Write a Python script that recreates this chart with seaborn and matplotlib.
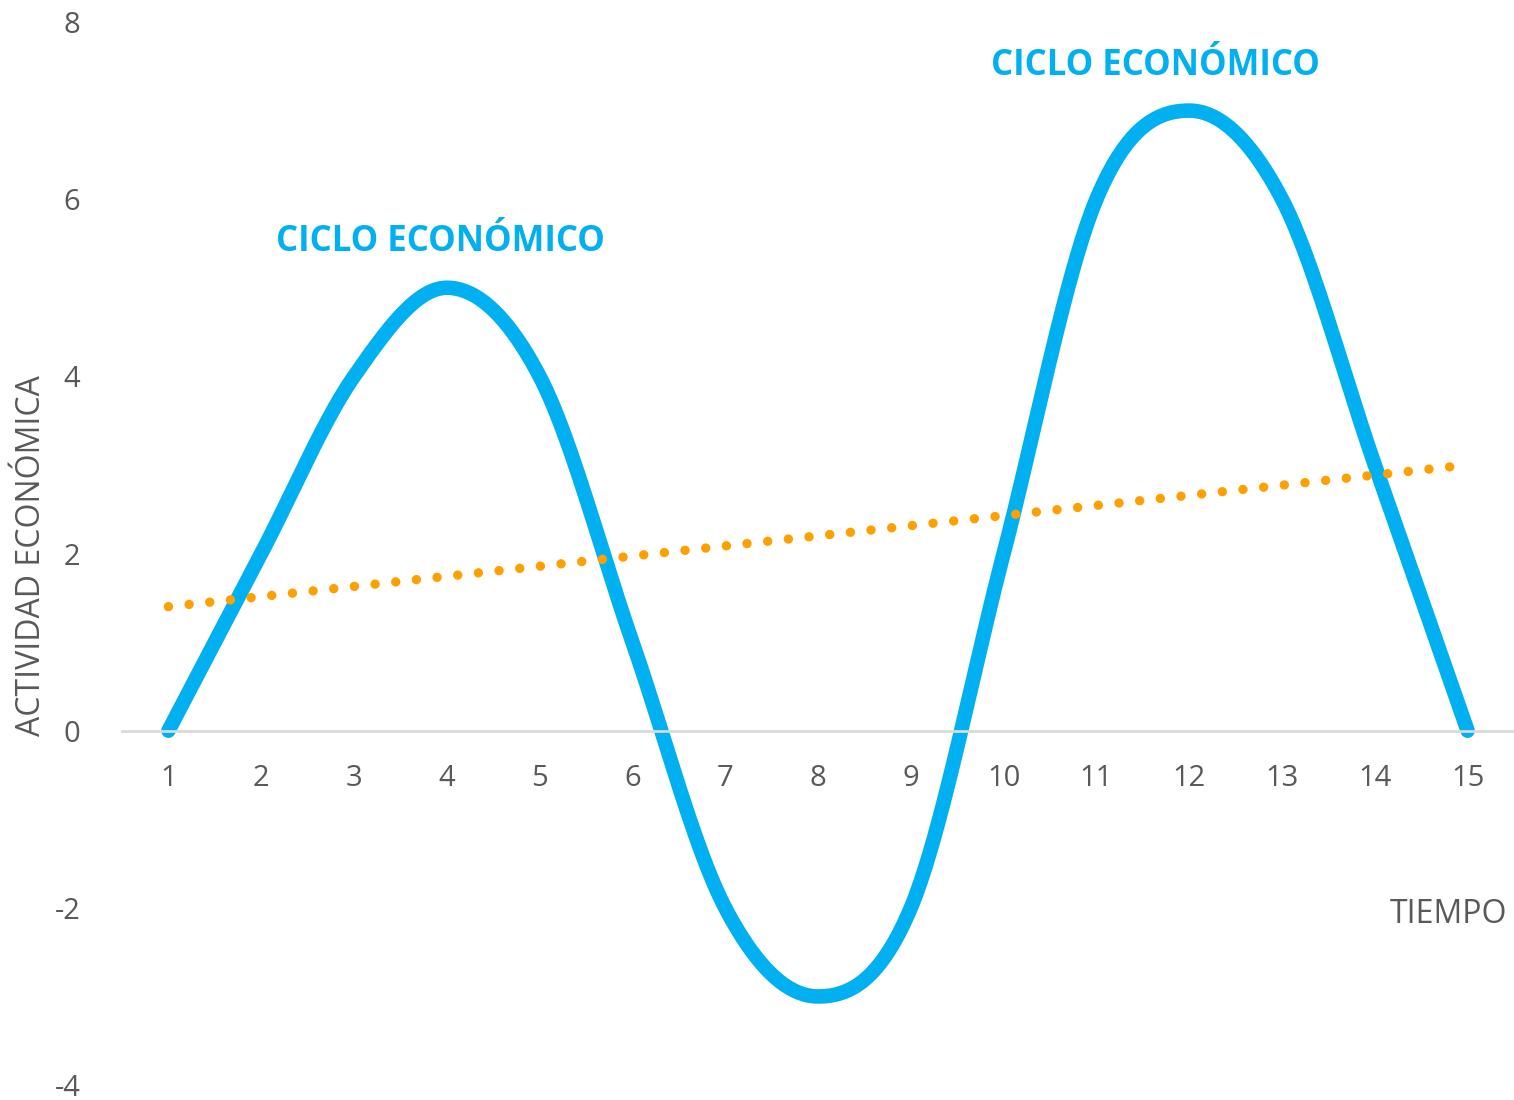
import numpy as np
import pandas as pd
import matplotlib.pyplot as plt
import seaborn as sns

# data
periodo = list(range(1, 16))
actividad = [0, 2, 4, 5, 4, 1, -2, -3, -2, 2, 6, 7, 6, 3, 0]
y_ticks = [-4, -2, 0, 2, 4, 6, 8]
etiqueta = "CICLO ECONÓMICO"

df = pd.DataFrame({"Tiempo": periodo, "Actividad": actividad})


# Excel style smoothed line (Bezier through the points)
def smooth(x, y, n=40):
    x = np.asarray(x, float)
    y = np.asarray(y, float)
    px = np.r_[x[0], x, x[-1]]
    py = np.r_[y[0], y, y[-1]]
    xs, ys = [], []
    t = np.linspace(0, 1, n)
    for i in range(1, len(px) - 2):
        for p, out in ((px, xs), (py, ys)):
            p0, p1, p2, p3 = p[i - 1], p[i], p[i + 1], p[i + 2]
            c1 = p1 + (p2 - p0) / 6
            c2 = p2 - (p3 - p1) / 6
            out.extend((1 - t) ** 3 * p1 + 3 * (1 - t) ** 2 * t * c1
                       + 3 * (1 - t) * t ** 2 * c2 + t ** 3 * p2)
    return np.array(xs), np.array(ys)


sns.set_style("white")
plt.rcParams["font.family"] = ["Open Sans", "DejaVu Sans"]
plt.rcParams["axes.unicode_minus"] = False

fig = plt.figure(figsize=(15.14, 11), dpi=100)
ax = fig.add_axes([0.0806, 0.0136, 0.9194, 0.9664])

blue = "#00B0F0"
orange = "#FFA000"
grey = "#595959"

# linear trendline (dotted)
sns.regplot(data=df, x="Tiempo", y="Actividad", scatter=False, ci=None, ax=ax,
            line_kws=dict(color=orange, lw=6.8, ls=(0, (0.001, 2.2)),
                          dash_capstyle="round", zorder=3))

sx, sy = smooth(df["Tiempo"], df["Actividad"])
sns.lineplot(x=sx, y=sy, sort=False, color=blue, lw=10.5, ax=ax, zorder=2,
             solid_capstyle="round")

ax.set_xlim(0.5, 15.5)
ax.set_ylim(-4, 8)
ax.set_xticks(periodo)
ax.set_yticks(y_ticks)
ax.tick_params(axis="both", length=0, labelsize=21, labelcolor=grey)
ax.tick_params(axis="y", pad=30)
ax.tick_params(axis="x", pad=24)

for s in ["top", "right", "left"]:
    ax.spines[s].set_visible(False)
ax.spines["bottom"].set_position(("data", 0))
ax.spines["bottom"].set_color("#D9D9D9")
ax.spines["bottom"].set_linewidth(2)
ax.set_xlabel("")
ax.set_ylabel("")

ax.text(3.93, 5.52, etiqueta, color=blue, fontsize=25, fontweight="bold",
        ha="center", va="center")
ax.text(11.64, 7.5, etiqueta, color=blue, fontsize=25, fontweight="bold",
        ha="center", va="center")
ax.text(15.43, -2.07, "TIEMPO", color=grey, fontsize=23, ha="right", va="center")
fig.text(0.021, 0.495, "ACTIVIDAD ECONÓMICA", color=grey, fontsize=23,
         rotation=90, ha="center", va="center")

plt.savefig("out.png", dpi=100)
